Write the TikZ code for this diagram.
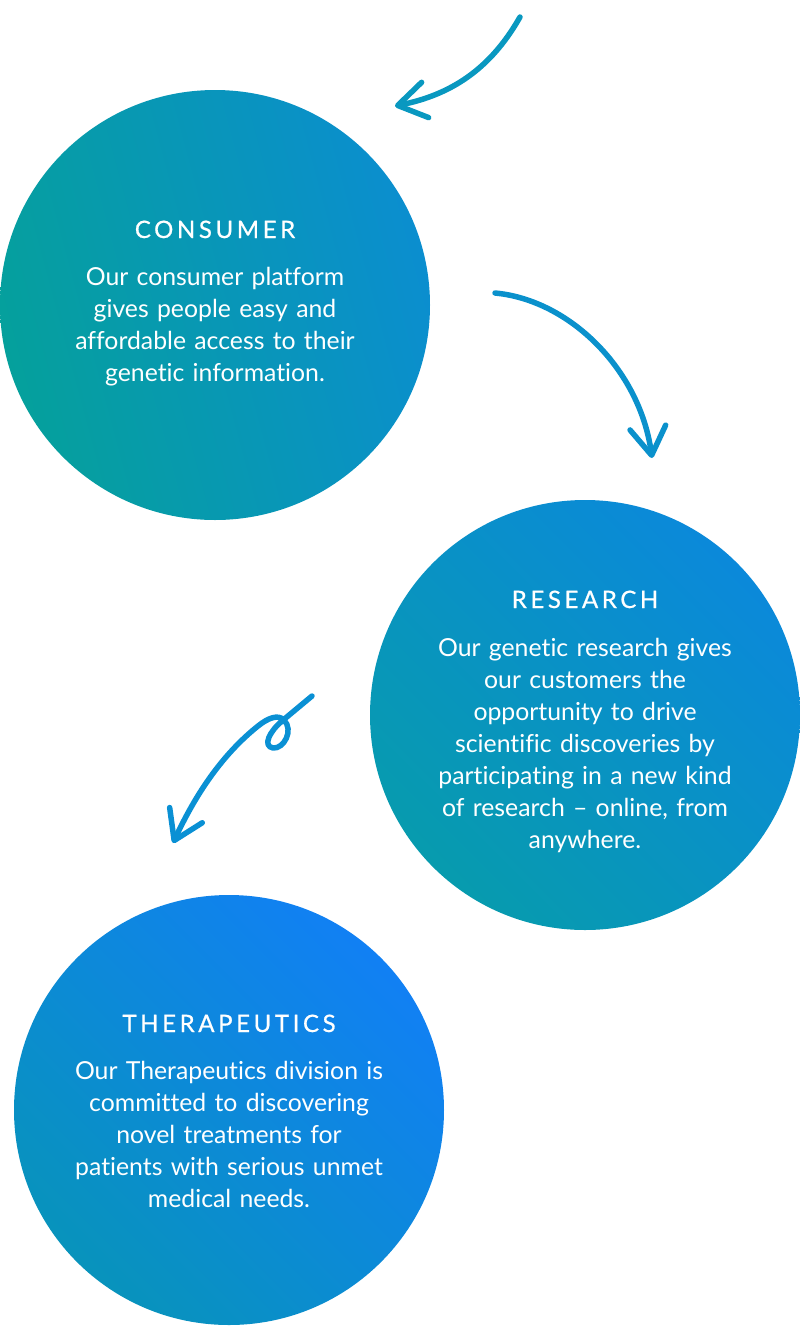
\documentclass[tikz,border=0pt]{standalone}
\usepackage{fontspec}
\setmainfont{Lato}[Ligatures=NoCommon]
\newfontfamily\titlefont[LetterSpace=15,FakeBold=0.7]{Lato}
\usetikzlibrary{arrows.meta}
\definecolor{cA}{HTML}{05A09C}
\definecolor{cB}{HTML}{0B8ECF}
\definecolor{rA}{HTML}{079BAE}
\definecolor{rB}{HTML}{0B89DA}
\definecolor{tA}{HTML}{0893BC}
\definecolor{tB}{HTML}{1180F4}
\definecolor{arA}{HTML}{0998C0}
\definecolor{arB}{HTML}{0A91CC}
\definecolor{arC}{HTML}{0A90D4}
\begin{document}
\begin{tikzpicture}[x=1pt,y=-1pt,
  bubble/.style={circle, minimum size=430pt, inner sep=0pt, draw=none},
  heading/.style={font=\titlefont\fontsize{24}{24}\selectfont, text=white, anchor=base, inner sep=0pt},
  body/.style={font=\fontsize{24.8}{32}\selectfont, text=white, align=center, text width=420pt, anchor=base, inner sep=0pt},
  flow/.style={line width=5.5pt, line cap=round, line join=round, -{Straight Barb[length=28pt,width=36pt,round]}}]
\useasboundingbox (0,0) rectangle (800,1326);
% bubbles
\node[bubble, left color=cA, right color=cB, shading angle=105] (consumer) at (215,305) {};
\node[bubble, left color=rA, right color=rB, shading angle=135] (research) at (585,715) {};
\node[bubble, left color=tA, right color=tB, shading angle=135] (therapeutics) at (229,1110) {};
% texts
\node[heading] (consumerTitle) at (215,238) {CONSUMER};
\node[body] (consumerText) at (215,285) {Our consumer platform\\gives people easy and\\affordable access to their\\genetic information.};
\node[heading] (researchTitle) at (585,608) {RESEARCH};
\node[body] (researchText) at (585,656) {Our genetic research gives\\our customers the\\opportunity to drive\\scientific discoveries by\\participating in a new kind\\of research – online, from\\anywhere.};
\node[heading] (therapeuticsTitle) at (229,1032) {THERAPEUTICS};
\node[body] (therapeuticsText) at (229,1079) {Our Therapeutics division is\\committed to discovering\\novel treatments for\\patients with serious unmet\\medical needs.};
% arrows
\coordinate (a1s) at (520,17);
\coordinate (a1e) at (395,106);
\coordinate (a2s) at (495,293);
\coordinate (a2e) at (652,458);
\coordinate (a3s) at (312,696);
\coordinate (a3e) at (173,843);
\draw[flow, arA] (a1s) .. controls (490,70) and (450,95) .. (a1e);
\draw[flow, arB] (a2s) .. controls (570,300) and (640,370) .. (a2e);
\draw[flow, arC] (a3s) -- (282,721) .. controls (270,731) and (262,746) .. (273,748)
  .. controls (284,749) and (294,730) .. (284,720)
  .. controls (278,714) and (268,718) .. (258,726)
  .. controls (228,750) and (200,785) .. (a3e);
\end{tikzpicture}
\end{document}
